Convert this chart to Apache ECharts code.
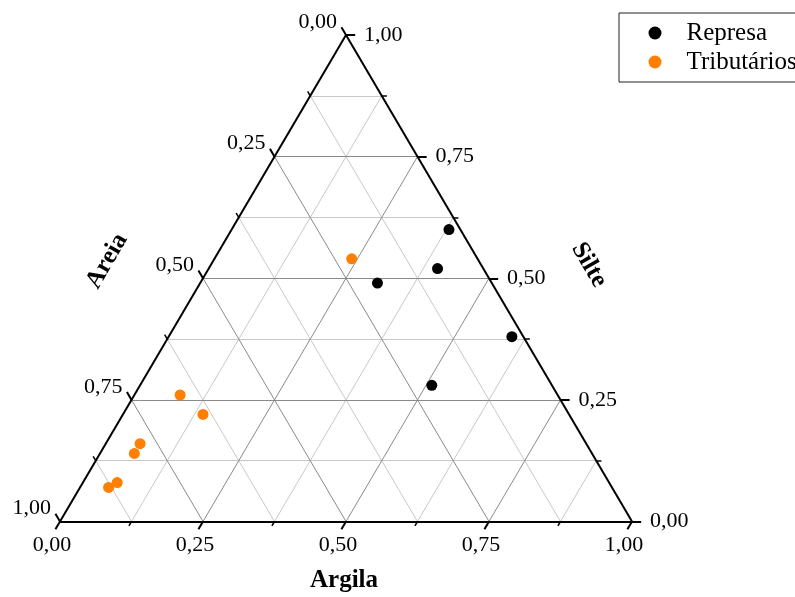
<!DOCTYPE html>
<html>
<head>
<meta charset="utf-8">
<script src="https://cdn.jsdelivr.net/npm/echarts@6/dist/echarts.min.js"></script>
<style>
  html, body { margin: 0; padding: 0; background: #fff; }
  #chart { width: 795px; height: 597px; }
</style>
</head>
<body>
<div id="chart"></div>
<script>
// Sediment texture (fractions): clay (argila), silt (silte), sand (areia)
const represaArgila = [0.38, 0.40, 0.31, 0.60, 0.51];
const represaSilte  = [0.60, 0.52, 0.49, 0.38, 0.28];
const represaAreia  = [0.02, 0.08, 0.20, 0.02, 0.21];

const tributariosArgila = [0.24, 0.08, 0.14, 0.06, 0.06, 0.06, 0.05];
const tributariosSilte  = [0.54, 0.26, 0.22, 0.16, 0.14, 0.08, 0.07];
const tributariosAreia  = [0.22, 0.66, 0.64, 0.78, 0.80, 0.86, 0.88];

const tickValues = [0, 0.25, 0.5, 0.75, 1];
const tickLabels = ['0,00', '0,25', '0,50', '0,75', '1,00'];
const minorValues = [0.125, 0.375, 0.625, 0.875];

const seriesNames = ['Represa', 'Tributários'];
const axisTitles = { argila: 'Argila', silte: 'Silte', areia: 'Areia' };

// ternary (argila, silte) -> cartesian plane of the triangle
function toXY(a, s) { return [a + s / 2, s]; }

function ternaryPoints(argila, silte, areia) {
  return argila.map((a, i) => {
    const sum = a + silte[i] + areia[i];
    return toXY(a / sum, silte[i] / sum);
  });
}

// grid lines of constant silte, argila and areia
function gridLines(values) {
  const out = [];
  values.forEach(v => {
    out.push({ coords: [toXY(0, v), toXY(1 - v, v)] });          // silte = v
    out.push({ coords: [toXY(v, 0), toXY(v, 1 - v)] });          // argila = v
    out.push({ coords: [toXY(1 - v, 0), toXY(0, 1 - v)] });      // areia = v
  });
  return out;
}

// outward ticks, continuing each grid direction beyond the edge
function ticks(values, len) {
  const out = [];
  values.forEach(v => {
    out.push({ coords: [toXY(v, 0), toXY(v, -len)] });                 // argila (bottom)
    out.push({ coords: [toXY(1 - v, v), toXY(1 - v + len, v)] });      // silte (right)
    out.push({ coords: [toXY(0, 1 - v), toXY(-len, 1 - v + len)] });   // areia (left)
  });
  return out;
}

const tickFont = { fontFamily: 'Liberation Serif', fontSize: 22, color: '#000' };

function labelSeries(points, labels, align, offset) {
  return {
    type: 'scatter',
    symbolSize: 0,
    silent: true,
    clip: false,
    z: 5,
    itemStyle: { opacity: 1 },
    data: points.map((p, i) => ({ value: p, name: labels[i] })),
    label: {
      show: true,
      position: 'inside',
      formatter: p => p.name,
      align: align,
      verticalAlign: 'middle',
      offset: offset,
      opacity: 1,
      ...tickFont
    }
  };
}

const chart = echarts.init(document.getElementById('chart'), null, { renderer: 'canvas' });

const lineBase = { type: 'lines', coordinateSystem: 'cartesian2d', silent: true, polyline: false, clip: false };

chart.setOption({
  animation: false,
  backgroundColor: '#fff',
  grid: { left: 60, right: 163, top: 35, bottom: 75.5 },
  xAxis: { type: 'value', min: 0, max: 1, show: false },
  yAxis: { type: 'value', min: 0, max: 1, show: false },
  legend: {
    data: seriesNames,
    orient: 'vertical',
    left: 619,
    top: 13,
    padding: [7.5, 40, 7.5, 29.5],
    itemGap: 4,
    itemWidth: 13,
    itemHeight: 13,
    borderColor: '#222',
    borderWidth: 1,
    textStyle: { fontFamily: 'Liberation Serif', fontSize: 25, color: '#000', lineHeight: 25, padding: [0, 0, 0, 20] }
  },
  series: [
    Object.assign({}, lineBase, {
      z: 1,
      data: gridLines(minorValues),
      lineStyle: { color: '#c8c8c8', width: 1, opacity: 1 }
    }),
    Object.assign({}, lineBase, {
      z: 1,
      data: gridLines([0.25, 0.5, 0.75]),
      lineStyle: { color: '#8a8a8a', width: 1, opacity: 1 }
    }),
    Object.assign({}, lineBase, {
      z: 3,
      data: [
        { coords: [toXY(0, 0), toXY(1, 0)] },
        { coords: [toXY(1, 0), toXY(0, 1)] },
        { coords: [toXY(0, 1), toXY(0, 0)] }
      ],
      lineStyle: { color: '#000', width: 2, opacity: 1 }
    }),
    Object.assign({}, lineBase, {
      z: 3,
      data: ticks(tickValues, 0.016),
      lineStyle: { color: '#000', width: 2, opacity: 1 }
    }),
    Object.assign({}, lineBase, {
      z: 3,
      data: ticks(minorValues, 0.009),
      lineStyle: { color: '#000', width: 1.5, opacity: 1 }
    }),
    labelSeries(tickValues.map(v => toXY(v, 0)), tickLabels, 'center', [-8, 24]),
    labelSeries(tickValues.map(v => toXY(1 - v, v)), tickLabels, 'left', [18, 0]),
    labelSeries(tickValues.map(v => toXY(0, 1 - v)), tickLabels, 'right', [-9, -13]),
    {
      name: seriesNames[0],
      type: 'scatter',
      z: 4,
      symbol: 'circle',
      symbolSize: 11,
      itemStyle: { color: '#000', opacity: 1 },
      data: ternaryPoints(represaArgila, represaSilte, represaAreia)
    },
    {
      name: seriesNames[1],
      type: 'scatter',
      z: 4,
      symbol: 'circle',
      symbolSize: 11,
      itemStyle: { color: '#ff8000', opacity: 1 },
      data: ternaryPoints(tributariosArgila, tributariosSilte, tributariosAreia)
    }
  ],
  graphic: [
    {
      type: 'text', x: 344, y: 581,
      style: { text: axisTitles.argila, font: 'bold 25px "Liberation Serif"', fill: '#000', align: 'center', verticalAlign: 'middle' }
    },
    {
      type: 'text', x: 107, y: 261, rotation: Math.PI / 3,
      style: { text: axisTitles.areia, font: 'bold 25px "Liberation Serif"', fill: '#000', align: 'center', verticalAlign: 'middle' }
    },
    {
      type: 'text', x: 589, y: 265, rotation: -Math.PI / 3,
      style: { text: axisTitles.silte, font: 'bold 25px "Liberation Serif"', fill: '#000', align: 'center', verticalAlign: 'middle' }
    }
  ]
});
</script>
</body>
</html>
